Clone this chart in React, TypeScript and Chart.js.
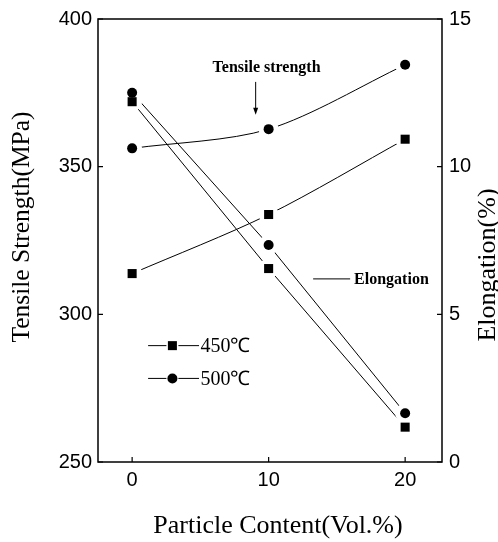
import React, { useEffect, useRef } from "react";
import { Chart, registerables } from "chart.js";

Chart.register(...registerables);

const particleContent = [0, 10, 20];
const tensile450 = [313.8, 333.8, 359.3];
const tensile500 = [356.2, 362.7, 384.5];
const elongation450 = [12.2, 6.55, 1.18];
const elongation500 = [12.5, 7.35, 1.65];
const leftTicks = [250, 300, 350, 400];
const rightTicks = [0, 5, 10, 15];
const xTicks = [0, 10, 20];
const seriesLabels = ["450℃", "500℃"];
const xTitle = "Particle Content(Vol.%)";
const leftTitle = "Tensile Strength(MPa)";
const rightTitle = "Elongation(%)";
const tensileNote = "Tensile strength";
const elongNote = "Elongation";

const W = 498;
const H = 542;
const SERIF = "'Liberation Serif', 'Times New Roman', serif";
const SANS = "'Liberation Sans', Arial, sans-serif";

const pts = (ys: number[]) => particleContent.map((x, i) => ({ x, y: ys[i] }));

const overlay = {
  id: "overlay",
  afterDraw(chart: any) {
    const { ctx, chartArea: a, scales } = chart;
    const xs = scales.x, yl = scales.y, yr = scales.y2;
    ctx.save();
    ctx.strokeStyle = "#000";
    ctx.fillStyle = "#000";
    ctx.lineWidth = 1.5;
    ctx.strokeRect(a.left, a.top, a.right - a.left, a.bottom - a.top);
    ctx.lineWidth = 1.2;
    ctx.beginPath();
    xTicks.forEach((t) => {
      const px = xs.getPixelForValue(t);
      ctx.moveTo(px, a.bottom);
      ctx.lineTo(px, a.bottom - 5);
    });
    leftTicks.forEach((t) => {
      const py = yl.getPixelForValue(t);
      ctx.moveTo(a.left, py);
      ctx.lineTo(a.left + 5, py);
    });
    rightTicks.forEach((t) => {
      const py = yr.getPixelForValue(t);
      ctx.moveTo(a.right, py);
      ctx.lineTo(a.right - 5, py);
    });
    ctx.stroke();

    // axis titles
    ctx.font = `26px ${SERIF}`;
    ctx.textAlign = "center";
    ctx.textBaseline = "alphabetic";
    ctx.fillText(xTitle, 278, 533);
    ctx.font = `25.5px ${SERIF}`;
    ctx.save();
    ctx.translate(29, 227);
    ctx.rotate(-Math.PI / 2);
    ctx.fillText(leftTitle, 0, 0);
    ctx.restore();
    ctx.font = `26px ${SERIF}`;
    ctx.save();
    ctx.translate(495, 265);
    ctx.rotate(-Math.PI / 2);
    ctx.fillText(rightTitle, 0, 0);
    ctx.restore();

    // annotations
    ctx.textBaseline = "middle";
    ctx.font = `bold 16px ${SERIF}`;
    ctx.textAlign = "center";
    ctx.fillText(tensileNote, xs.getPixelForValue(9.85), yl.getPixelForValue(383.4));
    const ax = xs.getPixelForValue(9.05);
    const ay1 = yl.getPixelForValue(378.7);
    const ay2 = yl.getPixelForValue(367.6);
    ctx.lineWidth = 1;
    ctx.beginPath();
    ctx.moveTo(ax, ay1);
    ctx.lineTo(ax, ay2 - 6);
    ctx.stroke();
    ctx.beginPath();
    ctx.moveTo(ax - 2.5, ay2 - 7);
    ctx.lineTo(ax + 2.5, ay2 - 7);
    ctx.lineTo(ax, ay2);
    ctx.closePath();
    ctx.fill();

    const ey = yl.getPixelForValue(312);
    ctx.beginPath();
    ctx.moveTo(xs.getPixelForValue(13.26), ey);
    ctx.lineTo(xs.getPixelForValue(15.97), ey);
    ctx.stroke();
    ctx.textAlign = "left";
    ctx.fillText(elongNote, xs.getPixelForValue(16.26), ey + 1);

    // legend
    const rows = [yl.getPixelForValue(289.4), yl.getPixelForValue(278.3)];
    rows.forEach((ry, i) => {
      ctx.lineWidth = 1;
      ctx.beginPath();
      ctx.moveTo(xs.getPixelForValue(1.17), ry);
      ctx.lineTo(xs.getPixelForValue(4.9), ry);
      ctx.stroke();
      const mx = xs.getPixelForValue(2.95);
      ctx.fillStyle = "#fff";
      ctx.fillRect(mx - 6, ry - 6, 12, 12);
      ctx.fillStyle = "#000";
      if (i === 0) {
        ctx.fillRect(mx - 4.5, ry - 4.5, 9, 9);
      } else {
        ctx.beginPath();
        ctx.arc(mx, ry, 5, 0, Math.PI * 2);
        ctx.fill();
      }
      ctx.font = `20px ${SERIF}`;
      ctx.textAlign = "left";
      ctx.fillText(seriesLabels[i], xs.getPixelForValue(5.0), ry + 1);
    });
    ctx.restore();
  },
};

function lineDs(ys: number[], axis: string, tension: number) {
  return {
    data: pts(ys),
    yAxisID: axis,
    borderColor: "#000",
    borderWidth: 1,
    tension,
    pointRadius: 0,
    showLine: true,
    order: 3,
  };
}
function haloDs(ys: number[], axis: string) {
  return {
    data: pts(ys),
    yAxisID: axis,
    showLine: false,
    pointRadius: 10,
    pointStyle: "circle",
    pointBackgroundColor: "#fff",
    pointBorderWidth: 0,
    order: 2,
  };
}
function markDs(ys: number[], axis: string, square: boolean) {
  return {
    data: pts(ys),
    yAxisID: axis,
    showLine: false,
    pointStyle: square ? "rect" : "circle",
    pointRadius: square ? 6.4 : 5,
    pointBackgroundColor: "#000",
    pointBorderWidth: 0,
    order: 1,
  };
}

export default function App() {
  const ref = useRef<HTMLCanvasElement>(null);
  useEffect(() => {
    if (!ref.current) return;
    const chart = new Chart(ref.current, {
      type: "scatter",
      data: {
        datasets: [
          markDs(tensile450, "y", true),
          markDs(tensile500, "y", false),
          markDs(elongation450, "y2", true),
          markDs(elongation500, "y2", false),
          haloDs(tensile450, "y"),
          haloDs(tensile500, "y"),
          haloDs(elongation450, "y2"),
          haloDs(elongation500, "y2"),
          lineDs(tensile450, "y", 0.3),
          lineDs(tensile500, "y", 0.3),
          lineDs(elongation450, "y2", 0),
          lineDs(elongation500, "y2", 0),
        ] as any,
      },
      options: {
        responsive: false,
        animation: false,
        events: [],
        layout: { padding: { top: 17, left: 0, right: 0, bottom: 0 } },
        plugins: { legend: { display: false }, tooltip: { enabled: false } },
        scales: {
          x: {
            type: "linear",
            min: -2.5,
            max: 22.7,
            grid: { display: false, drawTicks: false },
            border: { display: false },
            afterBuildTicks: (s: any) => {
              s.ticks = xTicks.map((v) => ({ value: v }));
            },
            afterFit: (s: any) => {
              s.height = 80;
            },
            ticks: { color: "#000", font: { family: SANS, size: 20 }, padding: 6 },
          },
          y: {
            position: "left",
            min: 250,
            max: 400,
            grid: { display: false, drawTicks: false },
            border: { display: false },
            afterBuildTicks: (s: any) => {
              s.ticks = leftTicks.map((v) => ({ value: v }));
            },
            afterFit: (s: any) => {
              s.width = 98;
            },
            ticks: { color: "#000", font: { family: SANS, size: 20 }, padding: 6 },
          },
          y2: {
            position: "right",
            min: 0,
            max: 15,
            grid: { display: false, drawTicks: false },
            border: { display: false },
            afterBuildTicks: (s: any) => {
              s.ticks = rightTicks.map((v) => ({ value: v }));
            },
            afterFit: (s: any) => {
              s.width = 56;
            },
            ticks: { color: "#000", font: { family: SANS, size: 20 }, padding: 7 },
          },
        },
      } as any,
      plugins: [overlay],
    });
    return () => chart.destroy();
  }, []);
  return (
    <div style={{ position: "absolute", left: 0, top: 0, width: W, height: H, background: "#fff" }}>
      <canvas ref={ref} width={W} height={H} />
    </div>
  );
}
